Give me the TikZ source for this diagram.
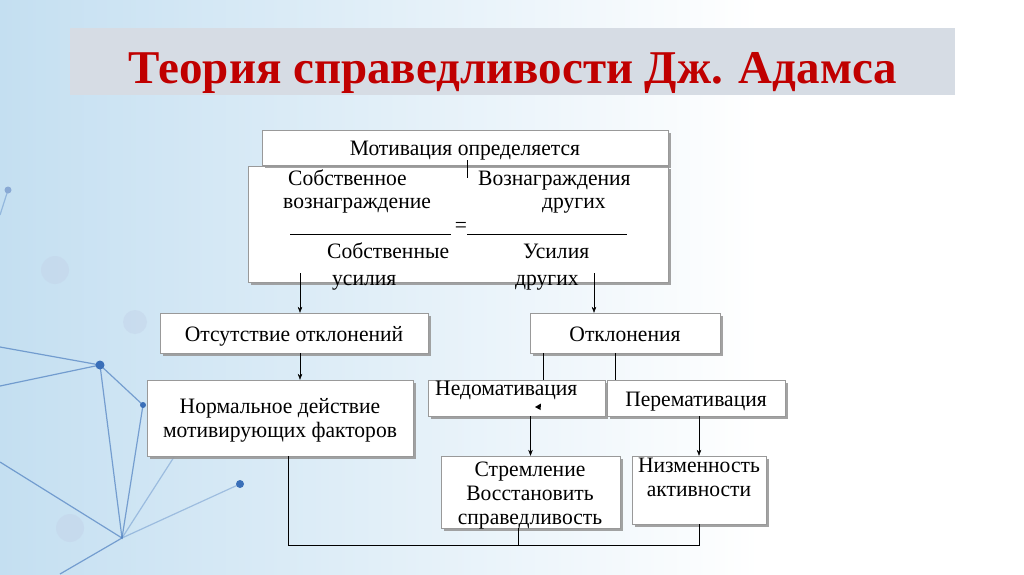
\documentclass[tikz,border=0pt]{standalone}
\usepackage{fontspec}
\setmainfont{Liberation Serif}
\newfontfamily\bodyfont{Liberation Serif}[FakeStretch=0.98]
\newfontfamily\titlefont{Liberation Serif}
\usetikzlibrary{arrows.meta, shadows}
\definecolor{titlered}{HTML}{C00000}
\definecolor{barfill}{HTML}{D6DCE4}
\definecolor{bgblue}{HTML}{C4DFF1}
\definecolor{netblue}{HTML}{3A6FB8}

\begin{document}
\begin{tikzpicture}[x=1pt, y=-1pt,
      box/.style={draw=black!40, fill=white, inner sep=2pt, align=center,
        font=\bodyfont\fontsize{22}{24}\selectfont,
        drop shadow={shadow xshift=2.5pt, shadow yshift=-2.5pt, fill=black!40, opacity=0.9}},
      oneline/.style={text height=16pt, text depth=0pt},
      txt/.style={inner sep=0pt, anchor=base west, font=\bodyfont\fontsize{22}{24}\selectfont},
      arrow/.style={-{Stealth[length=6pt, width=4.5pt]}, draw=black, thin},
      net/.style={draw=netblue, line width=1.2pt, opacity=0.6}]
    \useasboundingbox (0,0) rectangle (1024,574);
    % background
    \fill[white] (0,0) rectangle (1024,574);
    \shade[left color=bgblue, right color=white] (0,0) rectangle (760,574);
    \fill[netblue!30, opacity=0.5] (55,270) circle (14pt) (135,322) circle (12pt) (70,528) circle (14pt);
    \draw[net] (0,347) -- (100,365) -- (0,386);
    \draw[net] (100,365) -- (122,538) -- (0,462);
    \draw[net] (100,365) -- (143,405) -- (122,538) -- (60,574);
    \draw[net, opacity=0.35] (122,538) -- (240,484) (122,538) -- (174,457) (0,215) -- (8,190);
    \fill[netblue] (100,365) circle (4.5pt) (143,405) circle (3pt) (240,484) circle (4pt);
    \fill[netblue!60] (8,190) circle (3.5pt);
    % title
    \node[fill=barfill, minimum width=885pt, minimum height=67pt, inner sep=0pt] (titlebar) at (512.5,61.5) {};
    \node[inner sep=0pt, anchor=base, text=titlered, font=\titlefont\bfseries\fontsize{47}{50}\selectfont] (title) at (513,83) {Теория справедливости Дж. Адамса};
    % formula block
    \node[box, minimum width=420pt, minimum height=116pt] (formula) at (458,224) {};
    \node[box, oneline, minimum width=406pt, minimum height=35pt] (mot) at (465,147.5) {Мотивация определяется};
    \node[txt] (ownrew1) at (288,185) {Собственное};
    \node[txt] (ownrew2) at (283,208) {вознаграждение};
    \node[txt] (othrew1) at (478,185) {Вознаграждения};
    \node[txt] (othrew2) at (542,208) {других};
    \node[txt] (frac) at (290,232) {\rule[-3pt]{161pt}{0.8pt}\,=\rule[-3pt]{160pt}{0.8pt}};
    \node[txt] (owneff1) at (327,258) {Собственные};
    \node[txt] (otheff1) at (523,258) {Усилия};
    \node[txt] (owneff2) at (332,285) {усилия};
    \node[txt] (otheff2) at (515,285) {других};
    \draw (467,160) -- (467,178);
    % second level
    \node[box, oneline, minimum width=268pt, minimum height=40pt] (absent) at (294,333) {Отсутствие отклонений};
    \node[box, oneline, minimum width=190pt, minimum height=40pt] (dev) at (625,333) {Отклонения};
    \node[box, text depth=0pt, minimum width=266pt, minimum height=76pt] (norm) at (280,418) {Нормальное действие\\мотивирующих факторов};
    \node[box, minimum width=177pt, minimum height=36pt] (under) at (516.5,398) {};
    \node[txt] (undertxt) at (435,395) {Недомативация};
    \fill (535,407) -- (541,403.5) -- (540.5,410) -- cycle;
    \node[box, oneline, minimum width=178pt, minimum height=36pt] (over) at (696,398) {Перемативация};
    \node[box, minimum width=179pt, minimum height=72pt] (strive) at (530.5,492) {};
    \node[txt, anchor=north, align=center] (strivetxt) at (530,462) {Стремление\\Восстановить\\справедливость};
    \node[box, minimum width=134pt, minimum height=68pt] (low) at (699,490) {};
    \node[txt, anchor=north, align=center] (lowtxt) at (699,458) {Низменность\\активности};
    % connectors
    \coordinate (a1) at (300,273);
    \coordinate (a2) at (594,273);
    \coordinate (bus) at (0,545);
    \draw[arrow] (a1) -- (a1 |- absent.north);
    \draw[arrow] (a2) -- (a2 |- dev.north);
    \draw[arrow] (absent.south -| a1) -- (norm.north -| a1);
    \draw ([xshift=-82pt]dev.south) -- ([xshift=-82pt]dev.south |- under.north);
    \draw ([xshift=-10pt]dev.south) -- ([xshift=-10pt]dev.south |- over.north);
    \draw[arrow] (under.south -| strive.north) -- (strive.north);
    \draw[arrow] (over.south -| low.north) -- (low.north);
    \draw ([xshift=8pt]norm.south) -- ([xshift=8pt]norm.south |- bus) -| (low.south);
    \draw ([xshift=-12pt]strive.south) -- ([xshift=-12pt]strive.south |- bus);
  \end{tikzpicture}
\end{document}
